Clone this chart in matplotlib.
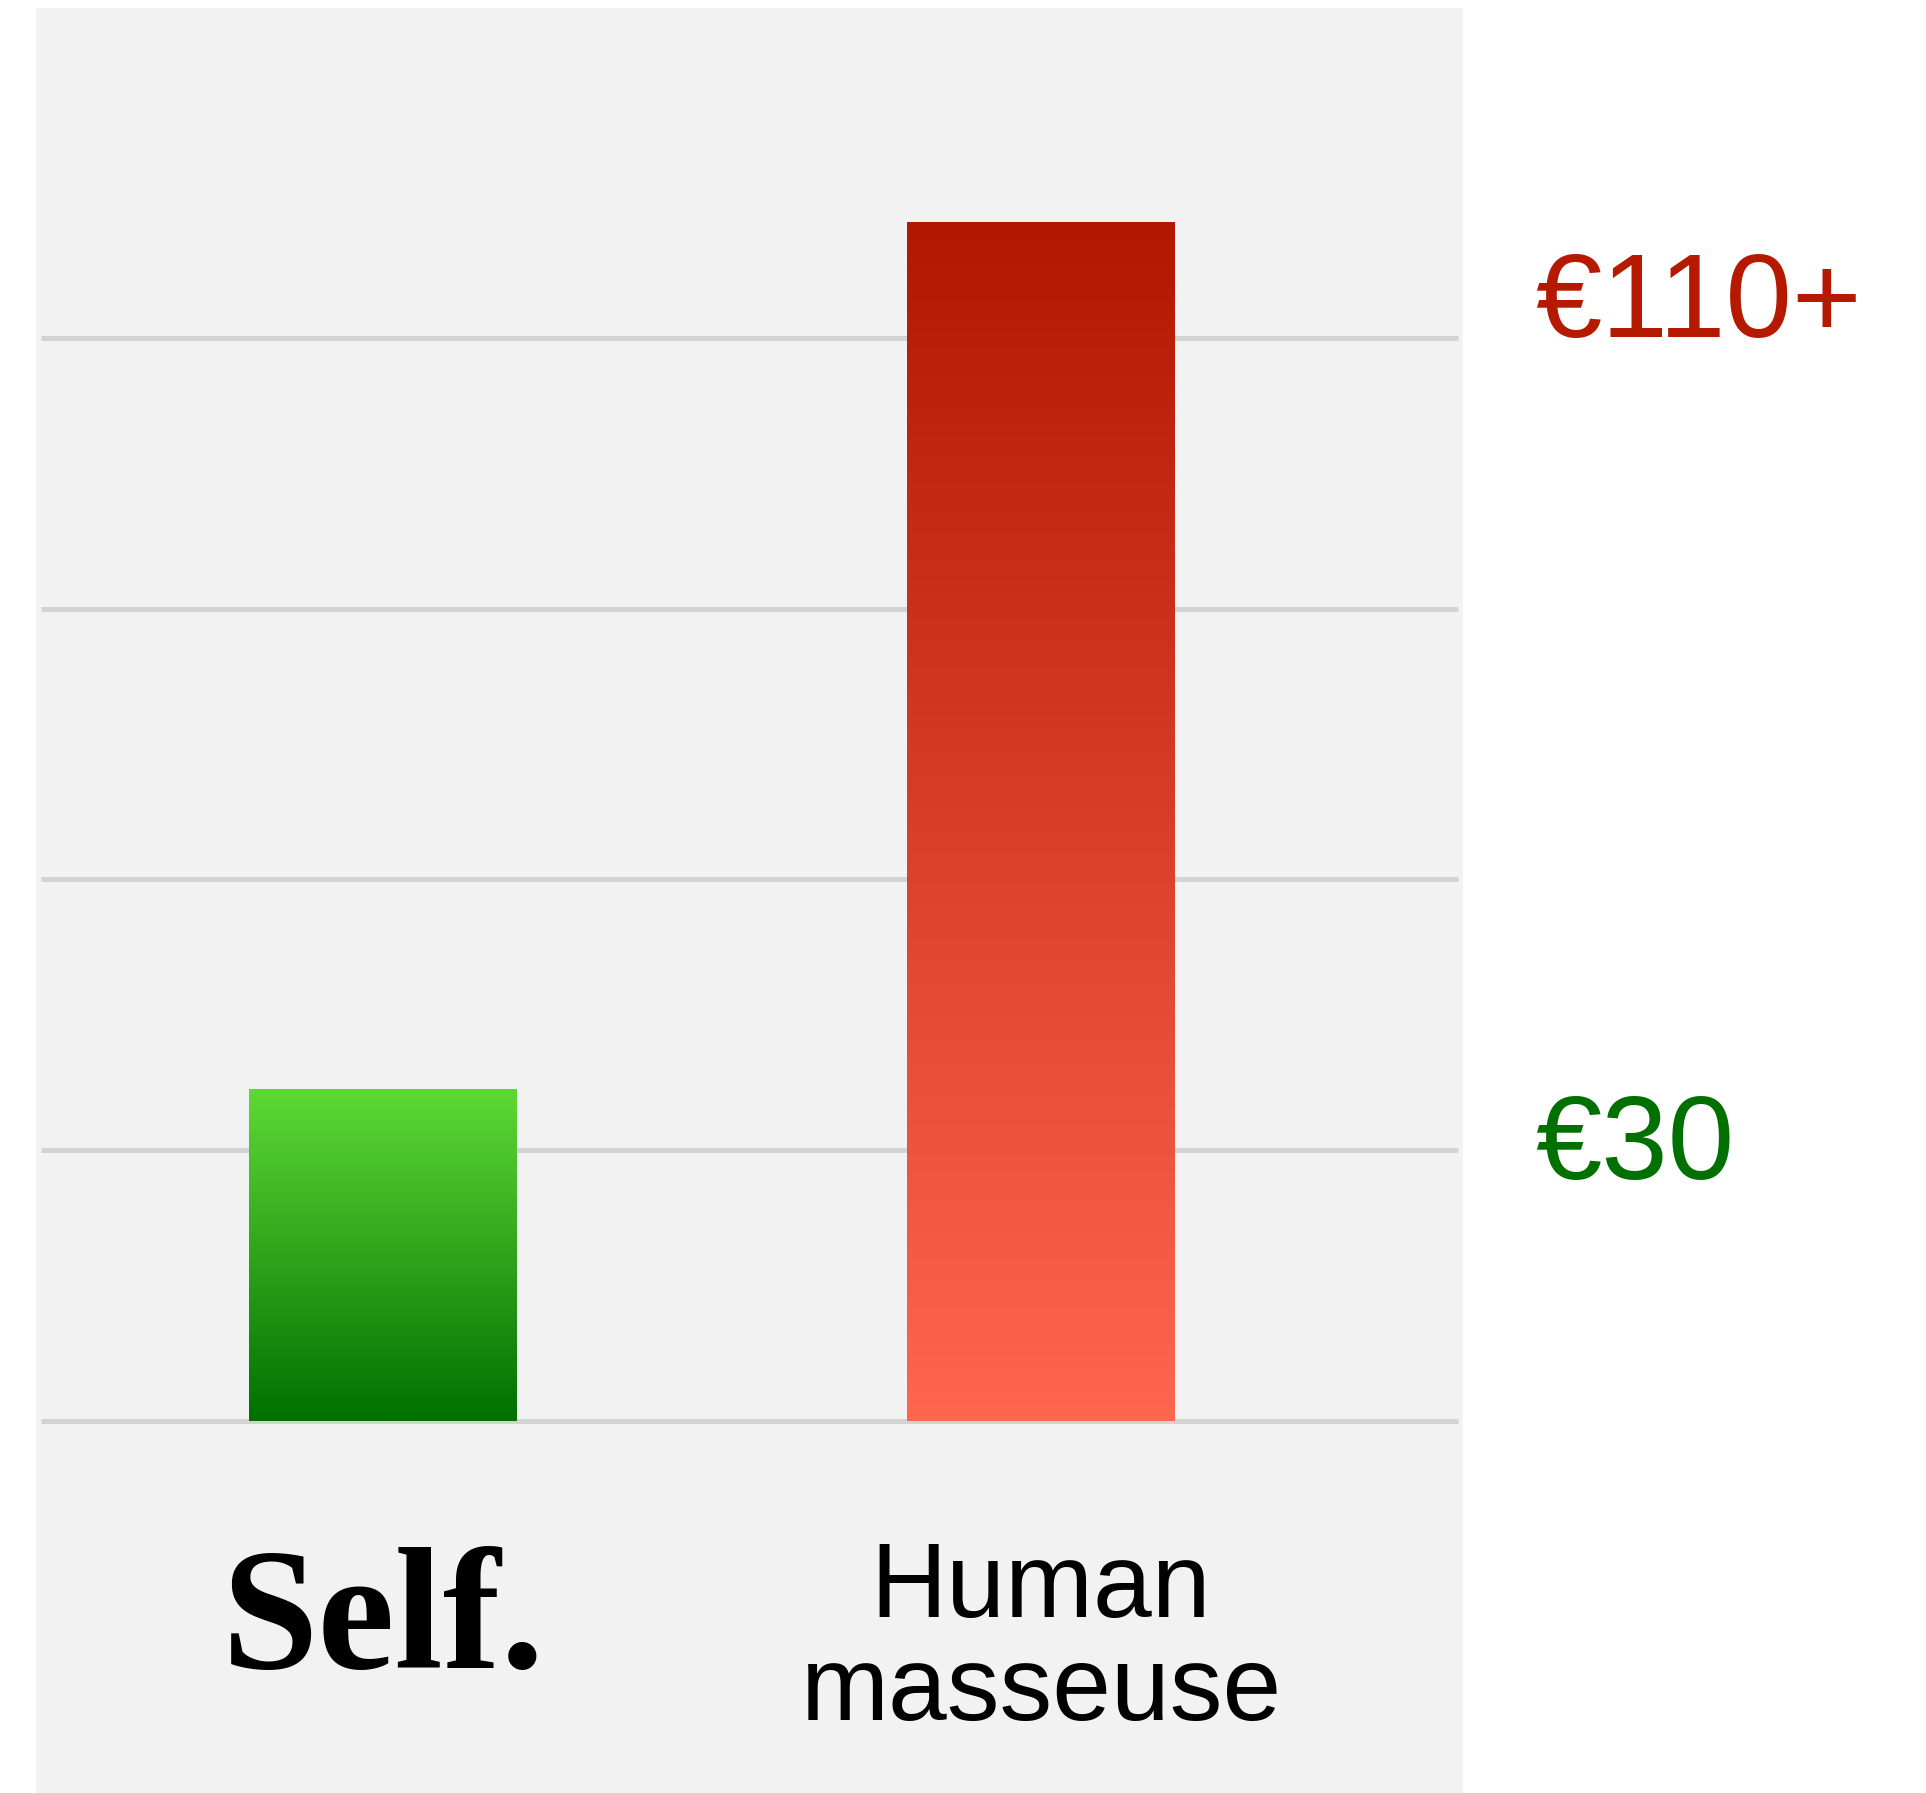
import numpy as np
import matplotlib.pyplot as plt
from matplotlib.colors import LinearSegmentedColormap

# Data
categories = ['Self.', 'Human\nmasseuse']
prices = [30.7, 110.7]          # bar heights
price_labels = ['€30', '€110+']
grid_values = [0, 25, 50, 75, 100]

# Gradient colours (bottom -> top) and label colours
bar_gradients = [('#007000', '#5fd936'), ('#ff6650', '#b21800')]
label_colors = ['#007000', '#b51a00']

W, H = 1926, 1793
fig = plt.figure(figsize=(W / 100, H / 100), dpi=100)
fig.patch.set_facecolor('white')

# gray panel
ax = fig.add_axes([36 / W, 0, (1463 - 36) / W, (H - 8) / H])
ax.set_facecolor('#f2f2f2')
for s in ax.spines.values():
    s.set_visible(False)
ax.set_xticks([])
ax.set_yticks([])

xlim = (-0.527, 1.641)
ylim = (-34.35, 130.47)

# gridlines
ax.hlines(grid_values, -0.520, 1.634, color='#d3d3d3', lw=3.6, zorder=1)

# gradient bars
x = np.arange(len(categories))
bars = ax.bar(x, prices, width=0.407, color='none', zorder=2)
grad = np.linspace(0, 1, 256).reshape(-1, 1)
for b, (c0, c1) in zip(bars, bar_gradients):
    cmap = LinearSegmentedColormap.from_list('g', [c0, c1])
    x0, y0 = b.get_x(), b.get_y()
    im = ax.imshow(grad, cmap=cmap, origin='lower', aspect='auto',
                   extent=[x0, x0 + b.get_width(), y0, y0 + b.get_height()],
                   zorder=2)
    im.set_clip_path(b)

ax.set_xlim(*xlim)
ax.set_ylim(*ylim)

# price labels on the right
ax.text(1.751, 100.1, price_labels[1], color=label_colors[1], fontsize=86,
        family='Liberation Sans', va='baseline', ha='left', clip_on=False)
ax.text(1.751, 22.3, price_labels[0], color=label_colors[0], fontsize=86,
        family='Liberation Sans', va='baseline', ha='left', clip_on=False)

# category labels
ax.text(x[0], -22.8, categories[0], fontsize=125, family='Liberation Serif',
        weight='bold', ha='center', va='baseline', color='black')
for i, line in enumerate(categories[1].split('\n')):
    ax.text(x[1], -18.1 - 9.5 * i, line, fontsize=76,
            family='Liberation Sans', ha='center', va='baseline', color='black')

fig.savefig('out.png', dpi=100)
